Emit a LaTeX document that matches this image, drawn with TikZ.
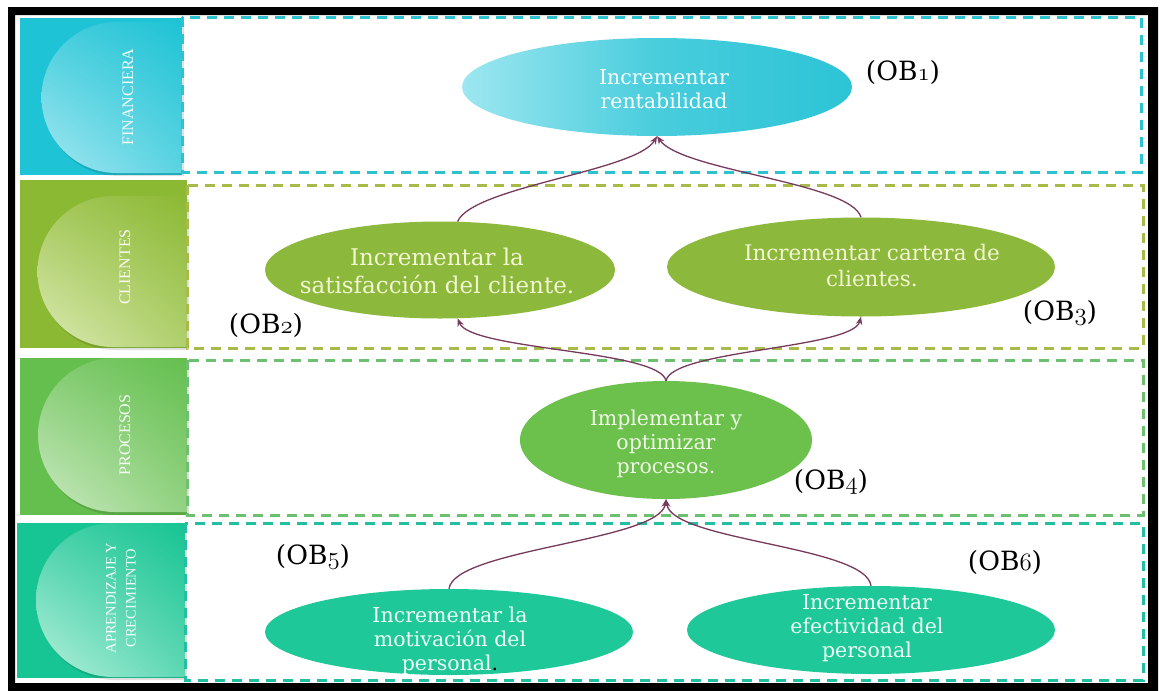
\documentclass[tikz,border=0pt]{standalone}
\usepackage{fontspec}
\setmainfont{DejaVu Serif}
\newfontfamily\tabfont{Liberation Serif}
\usetikzlibrary{arrows.meta,shapes.geometric,calc,shadings}

% old-style figures for the objective codes
\newcommand{\osnum}[1]{{\usefont{OML}{lmm}{m}{it}#1}}

% band colours
\definecolor{finA}{HTML}{1EC3D5}
\definecolor{finB}{HTML}{A5E8F1}
\definecolor{finD}{HTML}{2CC2CF}
\definecolor{cliA}{HTML}{8CB934}
\definecolor{cliB}{HTML}{DCEBB4}
\definecolor{cliD}{HTML}{A8BA48}
\definecolor{proA}{HTML}{64BF4E}
\definecolor{proB}{HTML}{CBEAC2}
\definecolor{proD}{HTML}{6CC070}
\definecolor{apeA}{HTML}{17C493}
\definecolor{apeB}{HTML}{B6F0DC}
\definecolor{apeD}{HTML}{22BFA0}
% objective colours
\definecolor{goalFinL}{HTML}{9DE7F0}
\definecolor{goalFinR}{HTML}{2CC4D6}
\definecolor{goalCli}{HTML}{8CB83C}
\definecolor{goalPro}{HTML}{6CC04C}
\definecolor{goalApe}{HTML}{1EC898}
\definecolor{txtFin}{HTML}{F8FFFF}
\definecolor{txtCli}{HTML}{F3F6D2}
\definecolor{txtPro}{HTML}{F0F8E8}
\definecolor{txtApe}{HTML}{EFFFF8}
\definecolor{linkc}{RGB}{118,58,92}

\begin{document}
\begin{tikzpicture}[x=1pt,y=-1pt,
  goal/.style={ellipse, inner sep=0pt, draw=none},
  goaltext/.style={align=center, inner sep=0pt, font=\fontsize{20.5}{24}\selectfont},
  code/.style={inner sep=0pt, text=black, font=\fontsize{26.5}{30}\selectfont},
  link/.style={draw=linkc, line width=1.3pt, -{Stealth[length=8pt,width=6.5pt]}},
  tablbl/.style={rotate=90, align=center, inner sep=0pt, text=white, opacity=0.92,
                 font=\tabfont\fontsize{16}{19}\selectfont},
  bandbox/.style={dash pattern=on 10pt off 7pt, line width=3pt}
]
\useasboundingbox (0,0) rectangle (1160,691);
\fill[white] (0,0) rectangle (1160,691);

% ---- perspective tabs ----
\fill[finA] (20,18) rectangle (182,175);
\fill[black, opacity=0.12] (184,25) -- (119,25) arc[start angle=270, end angle=90, radius=75.5] -- (184,176) -- cycle;
\shade[upper left=finA!70!finB, upper right=finA, lower left=finB, lower right=finA!55!finB]
  (182,22) -- (117,22) arc[start angle=270, end angle=90, radius=75.5] -- (182,173) -- cycle;

\fill[cliA] (20,180) rectangle (187,348);
\fill[black, opacity=0.12] (189,199) -- (115,199) arc[start angle=270, end angle=90, radius=75.5] -- (189,350) -- cycle;
\shade[upper left=cliA!70!cliB, upper right=cliA, lower left=cliB, lower right=cliA!55!cliB]
  (187,196) -- (113,196) arc[start angle=270, end angle=90, radius=75.5] -- (187,347) -- cycle;

\fill[proA] (20,358) rectangle (187,515);
\fill[black, opacity=0.12] (189,361) -- (117,361) arc[start angle=270, end angle=90, radius=77] -- (189,515) -- cycle;
\shade[upper left=proA!70!proB, upper right=proA, lower left=proB, lower right=proA!55!proB]
  (187,358) -- (115,358) arc[start angle=270, end angle=90, radius=77] -- (187,512) -- cycle;

\fill[apeA] (17,523) rectangle (185,678);
\fill[black, opacity=0.12] (187,526) -- (115,526) arc[start angle=270, end angle=90, radius=77] -- (187,680) -- cycle;
\shade[upper left=apeA!70!apeB, upper right=apeA, lower left=apeB, lower right=apeA!55!apeB]
  (185,523) -- (113,523) arc[start angle=270, end angle=90, radius=77] -- (185,677) -- cycle;

\node[tablbl] (tab1) at (128,97) {FINANCIERA};
\node[tablbl] (tab2) at (125,267) {CLIENTES};
\node[tablbl] (tab3) at (125,435) {PROCESOS};
\node[tablbl, font=\tabfont\fontsize{14.5}{20}\selectfont] (tab4) at (121,598) {APRENDIZAJE Y\\CRECIMIENTO};

% ---- dashed band frames ----
\draw[bandbox, draw=finD] (182,17) rectangle (1141,172);
\draw[bandbox, draw=cliD] (187,185) rectangle (1143,348);
\draw[bandbox, draw=proD] (187,360) rectangle (1143,515);
\draw[bandbox, draw=apeD] (185,523) rectangle (1143,680);

% ---- objectives ----
\node[goal, shade, left color=goalFinL, right color=goalFinR, middle color=goalFinR!75!goalFinL,
      minimum width=390pt, minimum height=98pt] (ob1) at (657,87) {};
\node[goal, fill=goalCli, minimum width=350pt, minimum height=97pt] (ob2) at (440,270) {};
\node[goal, fill=goalCli, minimum width=388pt, minimum height=99pt] (ob3) at (861,267) {};
\node[goal, fill=goalPro, minimum width=292pt, minimum height=118pt] (ob4) at (666,440) {};
\node[goal, fill=goalApe, minimum width=368pt, minimum height=86pt] (ob5) at (449,632) {};
\node[goal, fill=goalApe, minimum width=368pt, minimum height=88pt] (ob6) at (871,630) {};

\node[goaltext, text=txtFin] (ob1t) at (664,89) {Incrementar\\ rentabilidad};
\node[goaltext, text=txtCli, font=\fontsize{23}{28}\selectfont] (ob2t) at (437,271) {Incrementar la\\satisfacción del cliente.};
\node[goaltext, text=txtCli, font=\fontsize{21.5}{26}\selectfont] (ob3t) at (872,265) {Incrementar cartera de\\clientes.};
\node[goaltext, text=txtPro] (ob4t) at (666,444) {Implementar y\\optimizar\\procesos.};
\node[goaltext, text=txtApe] (ob5t) at (450,641) {Incrementar la\\motivación del\\personal{\color{black}.}};
\node[goaltext, text=txtApe] (ob6t) at (867,628) {Incrementar\\efectividad del\\personal};

% ---- objective codes ----
\node[code] (c1) at (903,72) {(OB\osnum{1})};
\node[code] (c2) at (266,325) {(OB\osnum{2})};
\node[code] (c3) at (1060,313) {(OB\osnum{3})};
\node[code] (c4) at (831,482) {(OB\osnum{4})};
\node[code] (c5) at (313,557) {(OB\osnum{5})};
\node[code] (c6) at (1005,562) {(OB\osnum{6})};

% ---- cause-effect links ----
\draw[link] (ob2.70) .. controls +(15,-35) and +(-20,35) .. (ob1.south);
\draw[link] (ob3.north) .. controls +(-10,-35) and +(25,35) .. (ob1.south);
\draw[link] (ob4.north) .. controls +(-6,-31) and +(13,32) .. (ob2.290);
\draw[link] (ob4.north) .. controls +(6,-31) and +(-8,32) .. (ob3.south);
\draw[link] (ob5.north) .. controls +(5,-40) and +(-6,42) .. (ob4.south);
\draw[link] (ob6.north) .. controls +(-5,-40) and +(6,42) .. (ob4.south);

% ---- outer frame ----
\fill[black, even odd rule] (8,7) rectangle (1158,691) (15,15) rectangle (1148,683);
\end{tikzpicture}
\end{document}
